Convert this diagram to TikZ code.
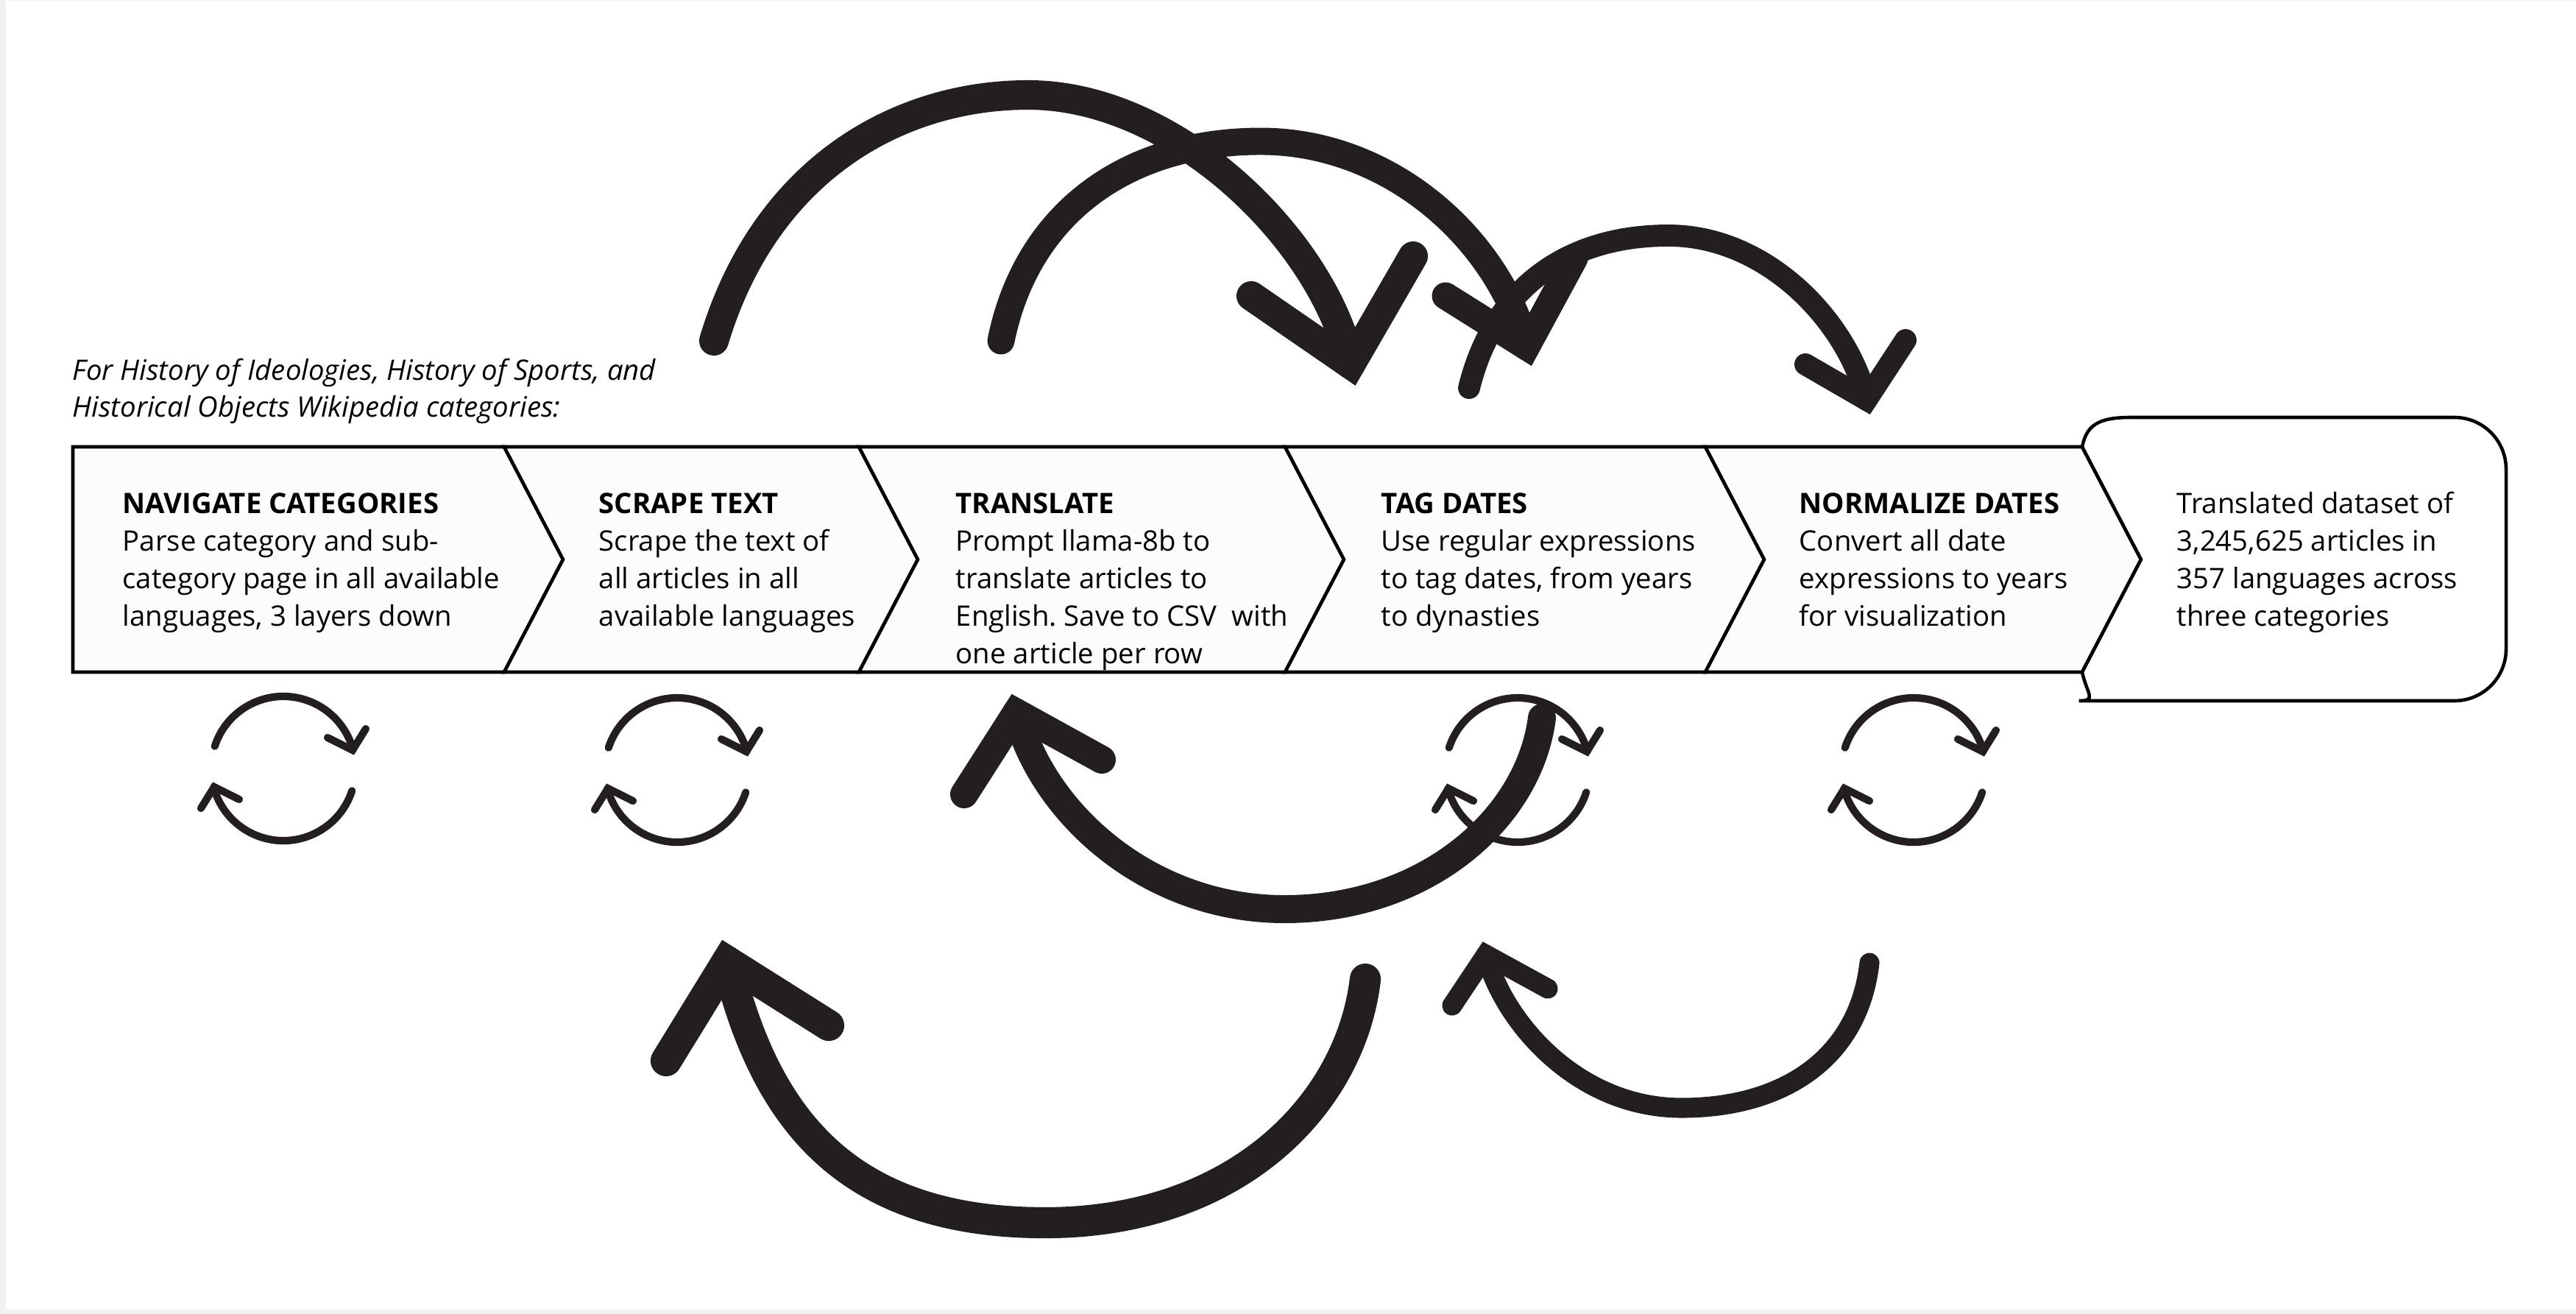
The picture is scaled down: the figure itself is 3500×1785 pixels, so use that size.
\documentclass[tikz,border=0pt]{standalone}
\usepackage{fontspec}
\setmainfont{Open Sans}
\usetikzlibrary{positioning}
\frenchspacing

\definecolor{ink}{RGB}{35,31,32}
\definecolor{paper}{RGB}{252,252,250}
\definecolor{frame}{RGB}{241,241,241}

\tikzset{
    band/.style={draw=black, line width=1.3pt, fill=paper, line join=miter},
    steptext/.style={anchor=base west, align=left, inner sep=0pt,
        font=\fontsize{10.9pt}{14.5pt}\selectfont},
    bigarc/.style={draw=ink, line cap=round},
    arrowv/.style={draw=ink, line cap=round, line join=miter},
    iconline/.style={draw=ink, line width=2.9pt, line cap=round},
    spinicon/.pic={
        % upper half, arrow at the right
        \draw[iconline] (-162:98) arc (-162:-15:98);
        \draw[iconline, line join=miter] (60,-42) -- (94,-25) -- (112,-54);
        % lower half, arrow at the left
        \draw[iconline] (18:98) arc (18:165:98);
        \draw[iconline, line join=miter] (-60,42) -- (-94,25) -- (-112,54);
    }
}

\begin{document}
\begin{tikzpicture}[x=0.01cm, y=-0.01cm]
            \def\Ytop{607};
            \def\Ybot{913};
            \def\Ymid{760};
            \def\Ytxt{850}; % baseline of the fourth line

            % page
            \useasboundingbox (0,0) rectangle (3500,1785);
            \fill[frame] (0,0) rectangle (3500,1785);
            \fill[white] (8,1) rectangle (3500,1779);

            % intro text
            \node[steptext, font=\fontsize{10.9pt}{14pt}\selectfont\itshape] (intro) at (98,566)
                {For History of Ideologies, History of Sports, and\\Historical Objects Wikipedia categories:};

            % first box
            \draw[band] (99,\Ytop) -- (685,\Ytop) -- (765,\Ymid) -- (685,\Ybot) -- (99,\Ybot) -- cycle;

            % middle boxes
            \foreach \a/\b in {685/1167, 1167/1746, 1746/2317, 2317/2829}
                \draw[band] (\a,\Ytop) -- (\b,\Ytop) -- (\b+80,\Ymid) -- (\b,\Ybot)
                    -- (\a,\Ybot) -- (\a+80,\Ymid) -- cycle;

            % result box
            \draw[band, fill=white] (2829,\Ytop) .. controls (2835,578) and (2850,567) .. (2895,567)
                [rounded corners=20pt] -- (3405,567) -- (3405,952) -- (2895,952)
                [sharp corners] .. controls (2850,952) and (2835,942) .. (2829,\Ybot)
                -- (2909,\Ymid) -- cycle;

            % step texts
            \node[steptext] (navigate) at (166,\Ytxt) {\textbf{NAVIGATE CATEGORIES}\\Parse category and sub-\\category page in all available\\languages, 3 layers down};
            \node[steptext] (scrape) at (813,\Ytxt) {\textbf{SCRAPE TEXT}\\Scrape the text of\\all articles in all\\available languages};
            \node[steptext] (translate) at (1298,\Ytxt+51) {\textbf{TRANSLATE}\\Prompt llama-8b to\\translate articles to\\English. Save to CSV\ \ with\\one article per row};
            \node[steptext] (tag) at (1876,\Ytxt) {\textbf{TAG DATES}\\Use regular expressions\\to tag dates, from years\\to dynasties};
            \node[steptext] (normalize) at (2444,\Ytxt) {\textbf{NORMALIZE DATES}\\Convert all date\\expressions to years\\for visualization};
            \node[steptext] (result) at (2957,\Ytxt) {Translated dataset of\\3,245,625 articles in\\357 languages across\\three categories};

            % small loops under the steps
            \pic (spin1) at (385,1044) {spinicon};
            \pic (spin2) at (920,1046) {spinicon};
            \pic (spin3) at (2062,1046) {spinicon};
            \pic (spin4) at (2600,1046) {spinicon};

            % ends of the big arcs
            \coordinate (aStart) at (970,463);
            \coordinate (aTip) at (1835,495);
            \coordinate (bStart) at (1360,463);
            \coordinate (bTip) at (2074,471);
            \coordinate (cStart) at (1996,527);
            \coordinate (cTip) at (2536,543);
            \coordinate (dStart) at (2095,975);
            \coordinate (dTip) at (1381,968);
            \coordinate (eStart) at (1855,1330);
            \coordinate (eTip) at (988,1306);
            \coordinate (fStart) at (2540,1308);
            \coordinate (fTip) at (2019,1297);

            % arc a
            \draw[bigarc, line width=11.4pt] (aStart) .. controls (1040,230) and (1220,129) .. (1397,129)
                .. controls (1600,129) and (1800,330) .. (aTip);
            \draw[arrowv, line width=11.4pt] (1700,402) -- (aTip) -- (1920,348);

            % arc c
            \draw[bigarc, line width=8.5pt] (cStart) .. controls (2030,390) and (2130,320) .. (2267,320)
                .. controls (2400,320) and (2510,436) .. (cTip);
            \draw[arrowv, line width=8.5pt] (2453,495) -- (cTip) -- (2589,462);

            % arc b
            \draw[bigarc, line width=10.5pt] (bStart) .. controls (1395,290) and (1530,192) .. (1713,192)
                .. controls (1890,192) and (2036,326) .. (bTip);
            \draw[arrowv, line width=10.5pt] (1964,402) -- (bTip) -- (2139,351);

            % arc d
            \draw[bigarc, line width=10.8pt] (dStart) .. controls (2078,1110) and (1940,1235) .. (1745,1235)
                .. controls (1560,1235) and (1416,1104) .. (dTip);
            \draw[arrowv, line width=10.8pt] (1310,1079) -- (dTip) -- (1497,1032);

            % arc e
            \draw[bigarc, line width=12pt] (eStart) .. controls (1835,1500) and (1680,1661) .. (1420,1661)
                .. controls (1150,1661) and (1040,1520) .. (eTip);
            \draw[arrowv, line width=12pt] (905,1441) -- (eTip) -- (1126,1393);

            % arc f
            \draw[bigarc, line width=7.7pt] (fStart) .. controls (2525,1440) and (2420,1505) .. (2285,1505)
                .. controls (2140,1505) and (2041,1384) .. (fTip);
            \draw[arrowv, line width=7.7pt] (1973,1366) -- (fTip) -- (2103,1343);

\end{tikzpicture}
\end{document}
